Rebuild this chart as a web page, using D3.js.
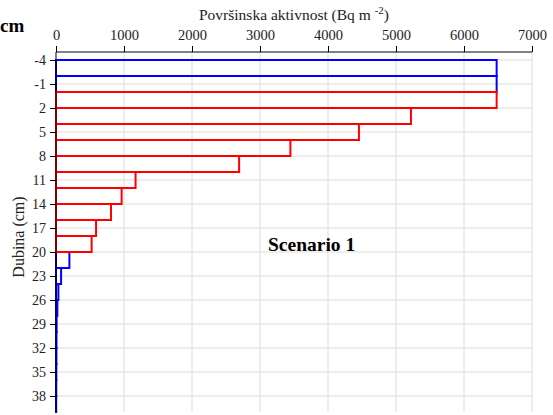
<!DOCTYPE html>
<html><head><meta charset="utf-8">
<script src="https://cdn.jsdelivr.net/npm/d3@7/dist/d3.min.js"></script>
<style>
html,body{margin:0;padding:0;background:#fff;}
svg text{font-family:"Liberation Serif","Times New Roman","DejaVu Serif",serif !important;}
</style></head>
<body>
<script>
// Data
const blueTops   = [-4, -2, 20, 22, 24, 26, 28, 30, 32, 34, 36, 38];
const blueValues = [6480, 6480, 197, 75, 35, 20, 9, 7, 6, 5, 4, 3];
const redTops    = [0, 2, 4, 6, 8, 10, 12, 14, 16, 18];
const redValues  = [6480, 5220, 4455, 3447, 2693, 1170, 965, 809, 589, 524];
const layerThickness = 2;
const xTicks = [0, 1000, 2000, 3000, 4000, 5000, 6000, 7000];
const yTicks = [-4, -1, 2, 5, 8, 11, 14, 17, 20, 23, 26, 29, 32, 35, 38];

const W = 553, H = 415;
const m = {left: 56, right: 21, top: 52, bottom: 3};
const svg = d3.select("body").append("svg").attr("width", W).attr("height", H);

const x = d3.scaleLinear().domain([0, 7000]).range([m.left, W - m.right]);
const y = d3.scaleLinear().domain([-5, 40]).range([m.top, H - m.bottom]);

// grid
const g = svg.append("g");
g.selectAll("line.v").data(xTicks.slice(1)).join("line")
  .attr("x1", d => x(d)).attr("x2", d => x(d))
  .attr("y1", y(-5)).attr("y2", y(40))
  .attr("stroke", "#dcdcdc").attr("stroke-width", 1);
g.selectAll("line.h").data(yTicks).join("line")
  .attr("x1", x(0)).attr("x2", x(7000))
  .attr("y1", d => y(d)).attr("y2", d => y(d))
  .attr("stroke", "#dcdcdc").attr("stroke-width", 1);

// bars as rectangle outlines
function drawSeries(tops, vals, color) {
  svg.append("g").selectAll("rect").data(tops.map((t, i) => ({t, v: vals[i]}))).join("rect")
    .attr("x", x(0))
    .attr("y", d => y(d.t))
    .attr("width", d => x(d.v) - x(0))
    .attr("height", d => y(d.t + layerThickness) - y(d.t))
    .attr("fill", "none")
    .attr("stroke", color)
    .attr("stroke-width", 2);
}
drawSeries(blueTops, blueValues, "#0000ff");
drawSeries(redTops, redValues, "#ff0000");

// top axis
const xAxis = d3.axisTop(x).tickValues(xTicks).tickFormat(d => String(d)).tickSize(6).tickPadding(6);
const xa = svg.append("g").attr("transform", `translate(0,${y(-5)})`).call(xAxis);
xa.select(".domain").attr("stroke", "#000").attr("d", `M${x(0)},0H${x(7000)}`);
xa.selectAll(".tick line").attr("stroke", "#000");
xa.selectAll("text").attr("font-size", "14.5px").attr("fill", "#222");

// left axis
const yAxis = d3.axisLeft(y).tickValues(yTicks).tickFormat(d => String(d)).tickSize(6).tickPadding(4);
const ya = svg.append("g").attr("transform", `translate(${x(0)},0)`).call(yAxis);
ya.select(".domain").attr("stroke", "#000").attr("d", `M0,${y(-5)}V${y(40)}`);
ya.selectAll(".tick line").attr("stroke", "#000");
ya.selectAll("text").attr("font-size", "14px").attr("fill", "#222");

// titles
const xt = svg.append("text").attr("x", 294).attr("y", 20).attr("text-anchor", "middle")
  .attr("font-size", "15.5px").attr("fill", "#222");
xt.append("tspan").text("Površinska aktivnost (Bq m ");
xt.append("tspan").attr("font-size", "11px").attr("dy", -6).text("-2");
xt.append("tspan").attr("dy", 6).text(")");

svg.append("text").attr("x", 0).attr("y", 32).attr("font-size", "19px")
  .attr("font-weight", "bold").attr("fill", "#000").text("cm");

svg.append("text").attr("transform", "translate(24,237) rotate(-90)")
  .attr("text-anchor", "middle").attr("font-size", "16px").attr("fill", "#222")
  .text("Dubina (cm)");

svg.append("text").attr("x", 268).attr("y", 251).attr("font-size", "19.5px")
  .attr("font-weight", "bold").attr("fill", "#000").text("Scenario 1");
</script>
</body></html>
